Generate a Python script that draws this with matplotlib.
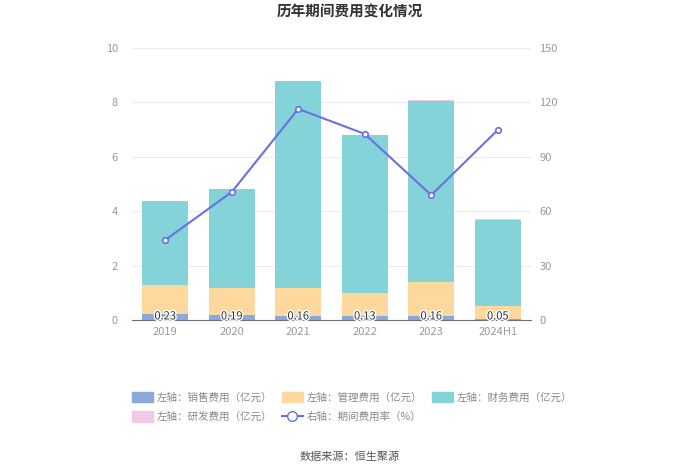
import matplotlib
matplotlib.use("Agg")
import matplotlib.pyplot as plt
import matplotlib.patheffects as pe
from matplotlib.patches import Patch
from matplotlib.lines import Line2D
import numpy as np

plt.rcParams["font.family"] = ["Noto Sans CJK SC", "DejaVu Sans"]

years = ["2019", "2020", "2021", "2022", "2023", "2024H1"]
sales = [0.23, 0.19, 0.16, 0.13, 0.16, 0.05]
admin = [1.04, 0.98, 1.01, 0.86, 1.23, 0.46]
finance = [3.11, 3.66, 7.60, 5.80, 6.66, 3.18]
rnd = [0.0, 0.0, 0.0, 0.0, 0.05, 0.02]
rate = [44.1, 70.6, 116.4, 102.6, 68.9, 104.8]

c_sales = "#8aa9db"
c_admin = "#fed89c"
c_fin = "#84d3d8"
c_rnd = "#f0c9e9"
c_line = "#6b6fe6"
grey = "#999999"

fig = plt.figure(figsize=(7.0, 4.74), dpi=100)
ax = fig.add_axes([132 / 700, 1 - 320 / 474, 399 / 700, 272 / 474])
ax2 = ax.twinx()

x = np.arange(len(years))
w = 0.69
b1 = np.array(sales)
b2 = b1 + np.array(admin)
b3 = b2 + np.array(finance)
ax.bar(x, sales, w, color=c_sales, zorder=2)
ax.bar(x, admin, w, bottom=b1, color=c_admin, zorder=2)
ax.bar(x, finance, w, bottom=b2, color=c_fin, zorder=2)
ax.bar(x, rnd, w, bottom=b3, color=c_rnd, zorder=2)

for xi, v in zip(x, sales):
    ax.text(xi, 0.13, f"{v:.2f}", ha="center", va="center", fontsize=8, color="#333333", zorder=5,
            path_effects=[pe.withStroke(linewidth=2, foreground="white")])

ax.set_xlim(-0.5, len(years) - 0.5)
ax.set_ylim(0, 10)
ax.set_yticks([0, 2, 4, 6, 8, 10])
ax.grid(axis="y", color="#ececf0", linewidth=0.8, zorder=0)
ax.set_axisbelow(True)
ax.set_xticks(x)
ax.set_xticklabels(years)

ax2.plot(x, rate, color=c_line, linewidth=1.5, marker="o", markersize=4,
         markerfacecolor="white", markeredgecolor=c_line, markeredgewidth=1.2, zorder=4)
ax2.set_ylim(0, 150)
ax2.set_yticks([0, 30, 60, 90, 120, 150])

for a in (ax, ax2):
    for s in a.spines.values():
        s.set_visible(False)
    a.tick_params(length=0, colors=grey, labelsize=8)
ax.spines["bottom"].set_visible(True)
ax.spines["bottom"].set_color("#6e7079")
ax.tick_params(axis="x", pad=5)
ax.tick_params(axis="y", pad=10)
ax2.tick_params(axis="y", pad=6)
# line above bars
ax2.set_zorder(ax.get_zorder() + 1)
ax2.patch.set_visible(False)

fig.text(0.5, 1 - 12 / 474, "历年期间费用变化情况", ha="center", va="center",
         fontsize=10.5, fontweight="bold", color="#333333")

handles = [
    Patch(color=c_sales, label="左轴：销售费用（亿元）"),
    Patch(color=c_rnd, label="左轴：研发费用（亿元）"),
    Patch(color=c_admin, label="左轴：管理费用（亿元）"),
    Line2D([0], [0], color=c_line, marker="o", markersize=7, markerfacecolor="white",
           markeredgecolor=c_line, linewidth=1.5, label="右轴：期间费用率（%）"),
    Patch(color=c_fin, label="左轴：财务费用（亿元）"),
]
leg = fig.legend(handles=handles, ncol=3, loc="center", bbox_to_anchor=(352 / 700, 1 - 407 / 474),
                 frameon=False, fontsize=7.6, handlelength=2.0, handleheight=1.1,
                 columnspacing=0.9, handletextpad=0.35, labelspacing=0.85)
for t in leg.get_texts():
    t.set_color("#888888")

fig.text(0.5, 1 - 457 / 474, "数据来源：恒生聚源", ha="center", va="center", fontsize=8, color="#555555")

fig.savefig("out.png", dpi=100)
